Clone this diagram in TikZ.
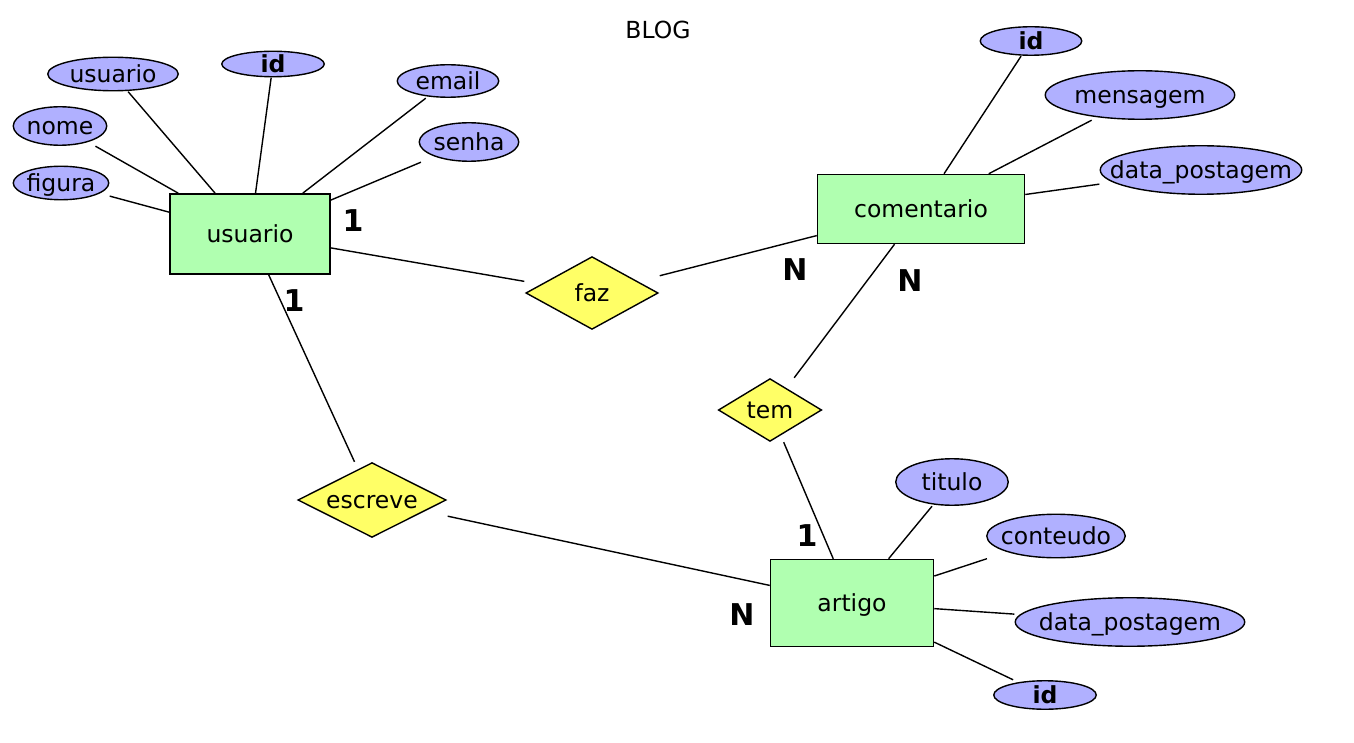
\documentclass[tikz,border=0pt]{standalone}
\usepackage{fontspec}
\setmainfont{DejaVu Sans}
\usetikzlibrary{calc}

\definecolor{entfill}{RGB}{176,255,176}
\definecolor{attrfill}{RGB}{176,176,255}
\definecolor{relfill}{RGB}{255,255,102}

\tikzset{
  every node/.style={font=\fontsize{23.5}{28}\selectfont, text=black},
  lbl/.style={text height=17pt, text depth=0pt},
  % entity: plain green box
  entity/.style={lbl, rectangle, draw=black, line width=1.5pt, fill=entfill, inner sep=0pt},
  % attribute: ellipse drawn inside a rectangular node, so links stop at its box
  attr/.style={lbl, rectangle, inner sep=0pt, path picture={
      \draw[line width=1.4pt, fill=attrfill]
        let \p1=(path picture bounding box.north east),
            \p2=(path picture bounding box.center)
        in (\p2) ellipse [x radius={\x1-\x2-0.75pt}, y radius={\y1-\y2-0.75pt}];}},
  % relationship: diamond drawn inside a rectangular node
  rel/.style={lbl, rectangle, inner sep=0pt, path picture={
      \draw[line width=1.4pt, fill=relfill, line join=miter]
        ($(path picture bounding box.north)+(0pt,-0.9pt)$)
        -- ($(path picture bounding box.east)+(-1.6pt,0pt)$)
        -- ($(path picture bounding box.south)+(0pt,0.9pt)$)
        -- ($(path picture bounding box.west)+(1.6pt,0pt)$) -- cycle;}},
  link/.style={line width=1.4pt},
  card/.style={font=\fontsize{30}{34}\selectfont\bfseries},
}

\begin{document}
\begin{tikzpicture}[x=1pt, y=-1pt]
\useasboundingbox[fill=white] (0,0) rectangle (1354,743);

\node[lbl] (title) at (658,30) {BLOG};

% entities
\node[entity, minimum width=160pt, minimum height=80pt] (usuario) at (250,234) {usuario};
\node[entity, minimum width=207pt, minimum height=69pt] (comentario) at (921,209) {comentario};
\node[entity, minimum width=163pt, minimum height=87pt] (artigo) at (852,603) {artigo};

% relationships
\node[rel, minimum width=135pt, minimum height=74pt] (faz) at (592,293) {faz};
\node[rel, minimum width=106pt, minimum height=64pt] (tem) at (770,410) {tem};
\node[rel, minimum width=151pt, minimum height=76pt] (escreve) at (372,500) {escreve};

% attributes of usuario
\node[attr, minimum width=132pt, minimum height=35pt] (uUsuario) at (113,74) {usuario};
\node[attr, minimum width=104pt, minimum height=27pt] (uId) at (273,64) {\bfseries id};
\node[attr, minimum width=103pt, minimum height=34pt] (uEmail) at (448,81) {email};
\node[attr, minimum width=95pt, minimum height=40pt] (uNome) at (60,126) {nome};
\node[attr, minimum width=101pt, minimum height=40pt] (uSenha) at (469,142) {senha};
\node[attr, minimum width=97pt, minimum height=35pt] (uFigura) at (61,183) {figura};

% attributes of comentario
\node[attr, minimum width=103pt, minimum height=30pt] (cId) at (1031,41) {\bfseries id};
\node[attr, minimum width=191pt, minimum height=50pt] (cMensagem) at (1140,95) {mensagem};
\node[attr, minimum width=203pt, minimum height=50pt] (cData) at (1201,170) {data\_postagem};

% attributes of artigo
\node[attr, minimum width=114pt, minimum height=48pt] (aTitulo) at (952,482) {titulo};
\node[attr, minimum width=140pt, minimum height=45pt] (aConteudo) at (1056,536) {conteudo};
\node[attr, minimum width=231pt, minimum height=50pt] (aData) at (1130,622) {data\_postagem};
\node[attr, minimum width=104pt, minimum height=30pt] (aId) at (1045,695) {\bfseries id};

% attribute links
\draw[link] (usuario) -- (uUsuario);
\draw[link] (usuario) -- (uId);
\draw[link] (usuario) -- (uEmail);
\draw[link] (usuario) -- (uNome);
\draw[link] (usuario) -- (uSenha);
\draw[link] (usuario) -- (uFigura);
\draw[link] (comentario) -- (cId);
\draw[link] (comentario) -- (cMensagem);
\draw[link] (comentario) -- (cData);
\draw[link] (artigo) -- (aTitulo);
\draw[link] (artigo) -- (aConteudo);
\draw[link] (artigo) -- (aData);
\draw[link] (artigo) -- (aId);

% relationship links
\draw[link] (usuario) -- (faz);
\draw[link] (faz) -- (comentario);
\draw[link] (usuario) -- (escreve);
\draw[link] (escreve) -- (artigo);
\draw[link] (comentario) -- (tem);
\draw[link] (tem) -- (artigo);

% cardinalities
\node[card] (c1) at (353,221) {1};
\node[card] (c2) at (795,270) {N};
\node[card] (c3) at (294,301) {1};
\node[card] (c4) at (910,281) {N};
\node[card] (c5) at (807,536) {1};
\node[card] (c6) at (742,615) {N};
\end{tikzpicture}
\end{document}
